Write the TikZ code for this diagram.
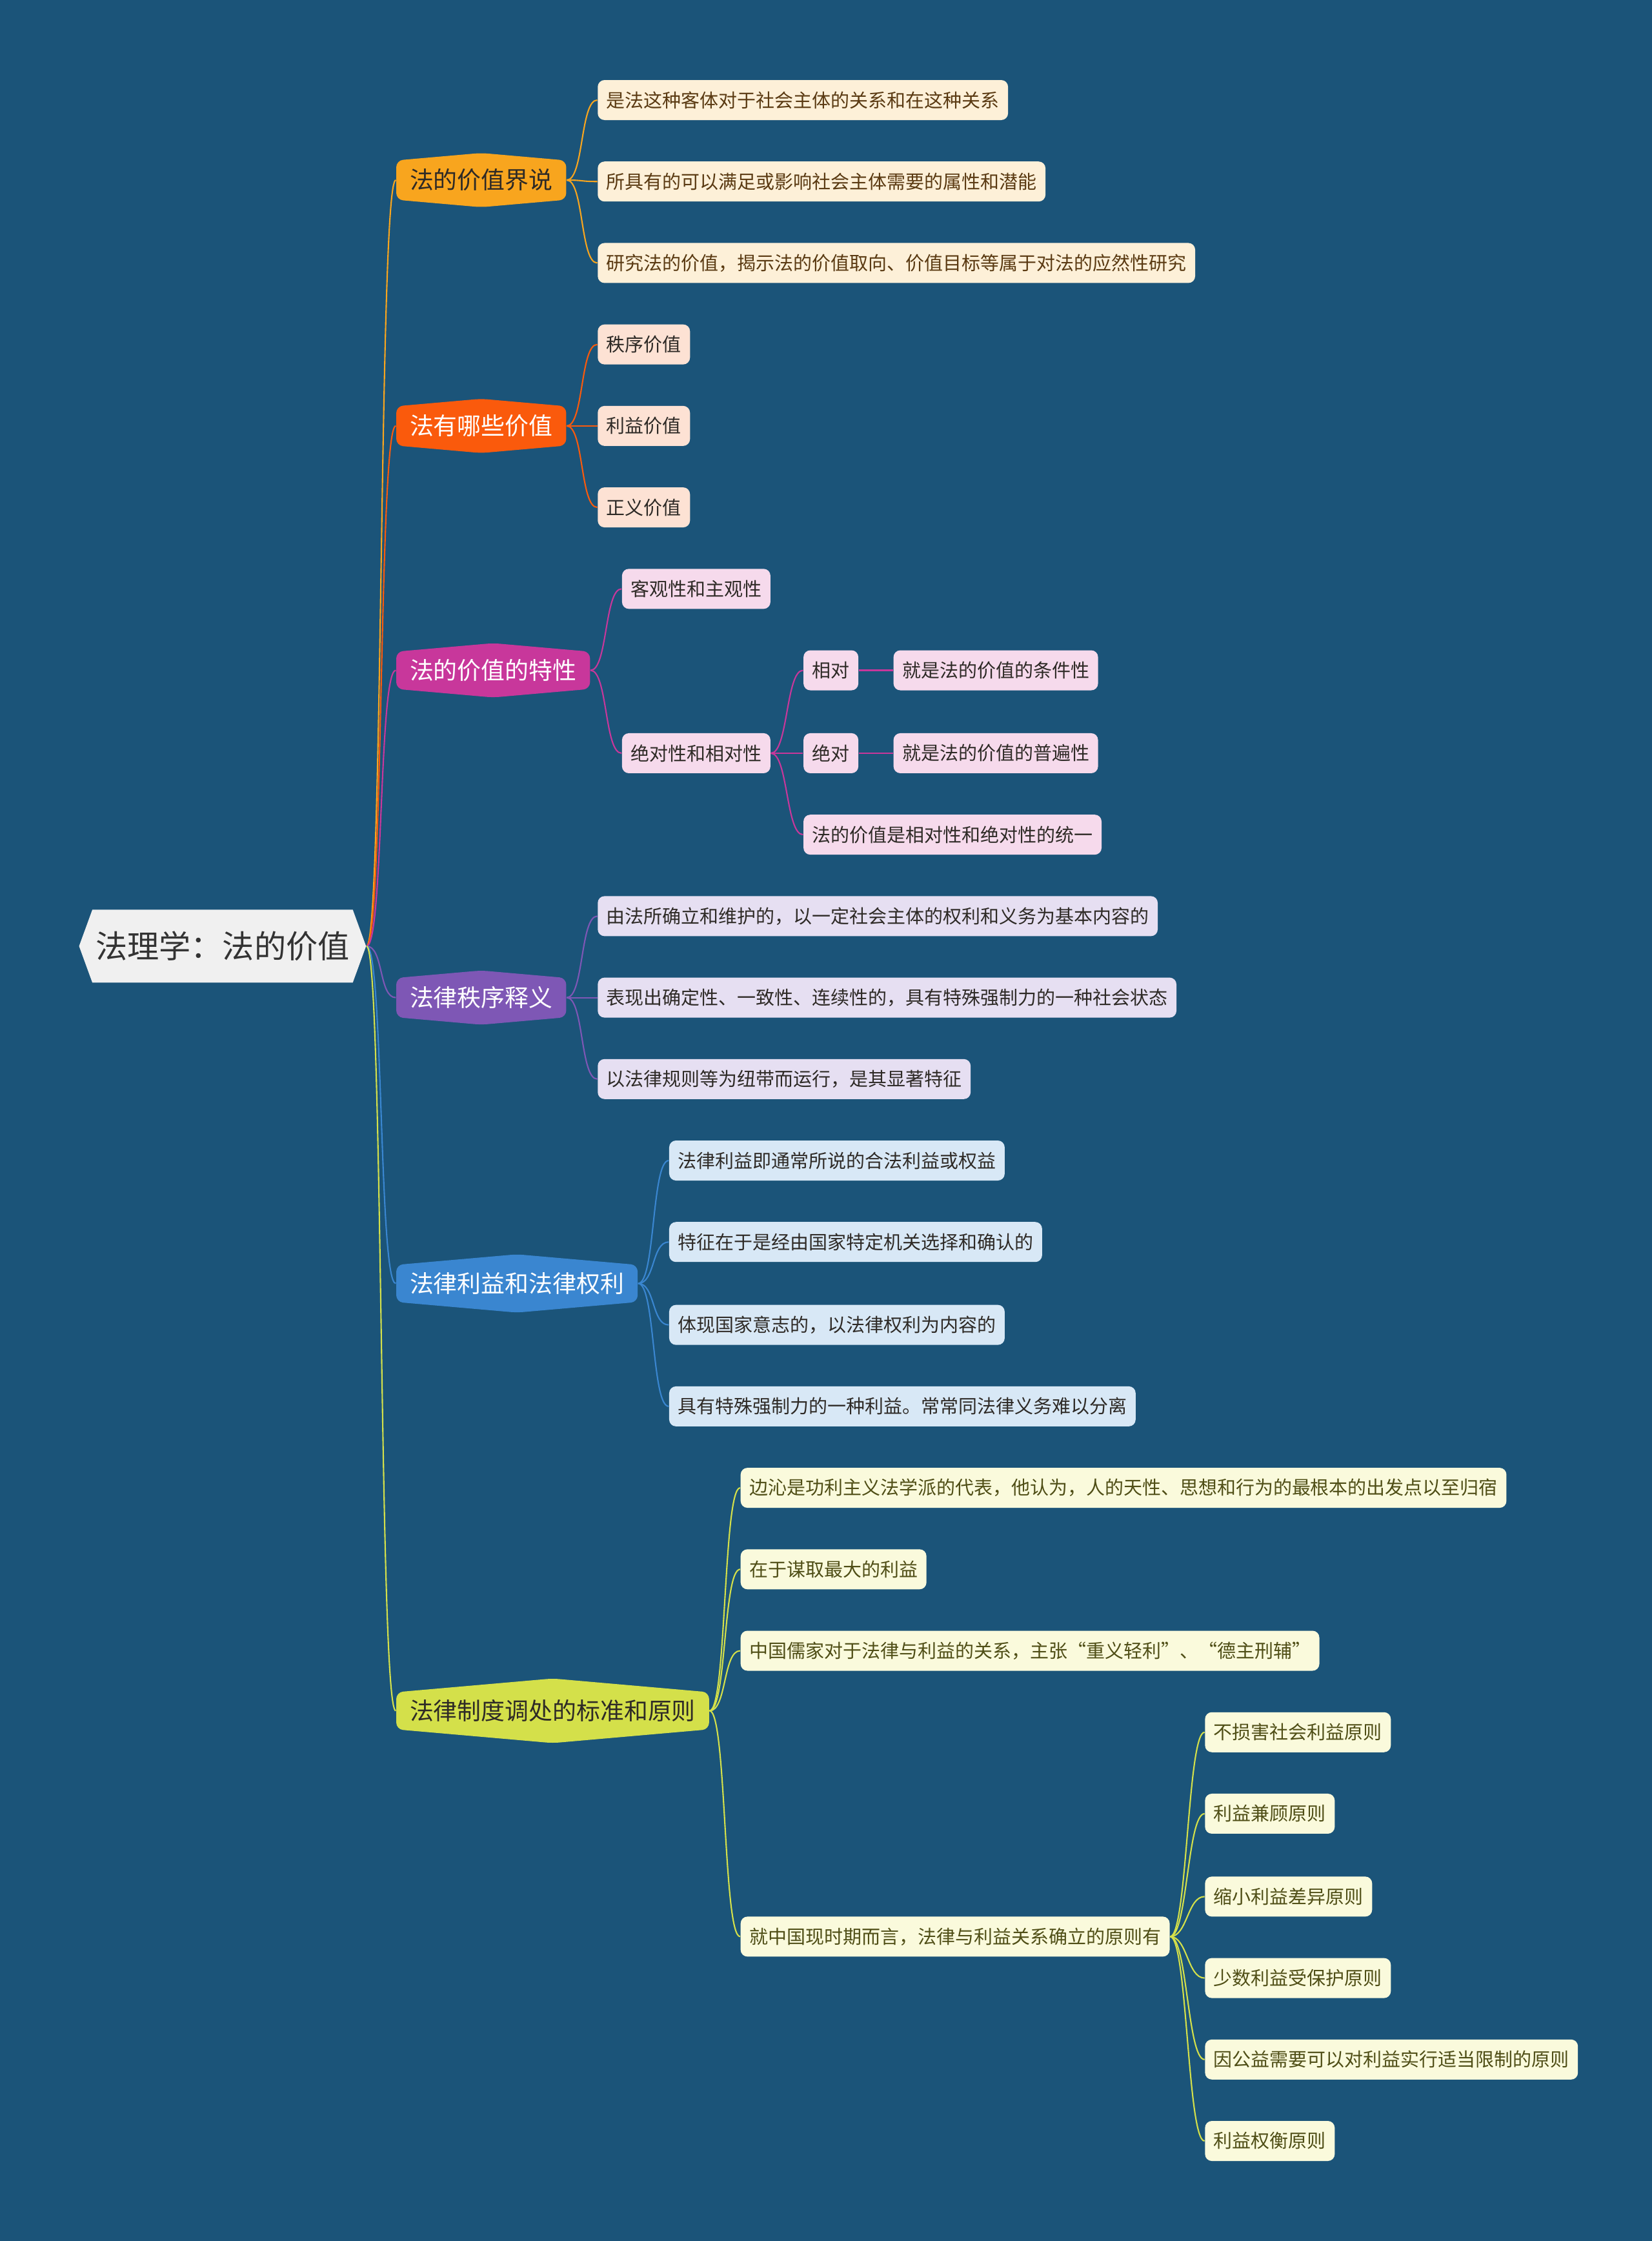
\documentclass[tikz,border=0pt]{standalone}
\usepackage{fontspec}
\setmainfont{Noto Sans CJK SC}
\usetikzlibrary{shapes.symbols,positioning}
\definecolor{fondo}{HTML}{1B5479}
\definecolor{grisraiz}{HTML}{F0F0F0}
\definecolor{textoraiz}{HTML}{333333}
\definecolor{naranja}{HTML}{F8A51E}
\definecolor{rojo}{HTML}{FA5A0C}
\definecolor{magenta}{HTML}{C8379B}
\definecolor{morado}{HTML}{7E57B5}
\definecolor{azul}{HTML}{3A86D0}
\definecolor{lima}{HTML}{D4E04A}
\definecolor{crema}{HTML}{FDF0D8}
\definecolor{durazno}{HTML}{FDE2D4}
\definecolor{rosa}{HTML}{F6DAEC}
\definecolor{lavanda}{HTML}{E6DFF2}
\definecolor{celeste}{HTML}{D8E8F6}
\definecolor{marfil}{HTML}{FAFADC}
\definecolor{marron}{HTML}{5A3A12}
\definecolor{oscuro}{HTML}{2E2A26}
\definecolor{oliva}{HTML}{4F4E16}
\tikzset{
  raiz/.style={
    signal, signal to=west and east, signal pointer angle=140,
    fill=grisraiz, text=textoraiz, anchor=west, inner xsep=0.5mm,
    minimum height=11.3mm, font=\fontsize{14pt}{17pt}\selectfont},
  rama/.style={
    signal, signal to=north and south, signal pointer angle=170,
    rounded corners=3pt, anchor=west, inner xsep=2.1mm,
    minimum height=8.4mm, font=\fontsize{10.5pt}{12pt}\selectfont},
  hoja/.style={
    rectangle, rounded corners=3pt, anchor=west, inner xsep=1.35mm,
    minimum height=6.2mm, font=\fontsize{8.25pt}{10pt}\selectfont},
  r1/.style={rama, fill=naranja, text=oscuro},
  r2/.style={rama, fill=rojo, text=white},
  r3/.style={rama, fill=magenta, text=white},
  r4/.style={rama, fill=morado, text=white},
  r5/.style={rama, fill=azul, text=white},
  r6/.style={rama, fill=lima, text=oscuro},
  h1/.style={hoja, fill=crema, text=marron},
  h2/.style={hoja, fill=durazno, text=oscuro},
  h3/.style={hoja, fill=rosa, text=oscuro},
  h4/.style={hoja, fill=lavanda, text=oscuro},
  h5/.style={hoja, fill=celeste, text=oscuro},
  h6/.style={hoja, fill=marfil, text=oliva},
  liga/.style={line width=0.6pt}
}

\begin{document}
\begin{tikzpicture}[x=0.22145mm, y=-0.22145mm]

\useasboundingbox (0,0) rectangle (1156,1568);
\fill[fondo] (0,0) rectangle (1156,1568);

\node[raiz] (raiz) at (55,662) {法理学：法的价值};

% ramas principales
\node[r1] (b1) at (277,126) {法的价值界说};
\node[r2] (b2) at (277,298) {法有哪些价值};
\node[r3] (b3) at (277,469) {法的价值的特性};
\node[r4] (b4) at (277,698) {法律秩序释义};
\node[r5] (b5) at (277,898) {法律利益和法律权利};
\node[r6] (b6) at (277,1197) {法律制度调处的标准和原则};

%法的价值界说
\node[h1] (h11) at (418,70) {是法这种客体对于社会主体的关系和在这种关系};
\node[h1] (h12) at (418,127) {所具有的可以满足或影响社会主体需要的属性和潜能};
\node[h1] (h13) at (418,184) {研究法的价值，揭示法的价值取向、价值目标等属于对法的应然性研究};

% 法有哪些价值
\node[h2] (h21) at (418,241) {秩序价值};
\node[h2] (h22) at (418,298) {利益价值};
\node[h2] (h23) at (418,355) {正义价值};

% 法的价值的特性
\node[h3] (h31) at (435,412) {客观性和主观性};
\node[h3] (h32) at (435,527) {绝对性和相对性};
\node[h3] (h321) at (562,469) {相对};
\node[h3] (h322) at (562,527) {绝对};
\node[h3] (h323) at (562,584) {法的价值是相对性和绝对性的统一};
\node[h3] (h3211) at (625,469) {就是法的价值的条件性};
\node[h3] (h3221) at (625,527) {就是法的价值的普遍性};

% 法律秩序释义
\node[h4] (h41) at (418,641) {由法所确立和维护的，以一定社会主体的权利和义务为基本内容的};
\node[h4] (h42) at (418,698) {表现出确定性、一致性、连续性的，具有特殊强制力的一种社会状态};
\node[h4] (h43) at (418,755) {以法律规则等为纽带而运行，是其显著特征};

% 法律利益和法律权利
\node[h5] (h51) at (468,812) {法律利益即通常所说的合法利益或权益};
\node[h5] (h52) at (468,869) {特征在于是经由国家特定机关选择和确认的};
\node[h5] (h53) at (468,927) {体现国家意志的，以法律权利为内容的};
\node[h5] (h54) at (468,984) {具有特殊强制力的一种利益。常常同法律义务难以分离};

% 法律制度调处的标准和原则
\node[h6] (h61) at (518,1041) {边沁是功利主义法学派的代表，他认为，人的天性、思想和行为的最根本的出发点以至归宿};
\node[h6] (h62) at (518,1098) {在于谋取最大的利益};
\node[h6] (h63) at (518,1155) {中国儒家对于法律与利益的关系，主张“重义轻利”、“德主刑辅”};
\node[h6] (h64) at (518,1355) {就中国现时期而言，法律与利益关系确立的原则有};
\node[h6] (h641) at (843,1212) {不损害社会利益原则};
\node[h6] (h642) at (843,1269) {利益兼顾原则};
\node[h6] (h643) at (843,1327) {缩小利益差异原则};
\node[h6] (h644) at (843,1384) {少数利益受保护原则};
\node[h6] (h645) at (843,1441) {因公益需要可以对利益实行适当限制的原则};
\node[h6] (h646) at (843,1498) {利益权衡原则};

% conectores
\foreach \b/\c in {b1/naranja, b2/rojo, b3/magenta, b4/morado, b5/azul, b6/lima}
  \draw[liga, \c] (raiz.east) .. controls +(12,0) and +(-12,0) .. (\b.west);

\foreach \p/\h/\c in {b1/h11/naranja, b1/h12/naranja, b1/h13/naranja,
    b2/h21/rojo, b2/h22/rojo, b2/h23/rojo,
    b3/h31/magenta, b3/h32/magenta, h32/h321/magenta, h32/h322/magenta,
    h32/h323/magenta, h321/h3211/magenta, h322/h3221/magenta,
    b4/h41/morado, b4/h42/morado, b4/h43/morado,
    b5/h51/azul, b5/h52/azul, b5/h53/azul, b5/h54/azul,
    b6/h61/lima, b6/h62/lima, b6/h63/lima, b6/h64/lima,
    h64/h641/lima, h64/h642/lima, h64/h643/lima,
    h64/h644/lima, h64/h645/lima, h64/h646/lima}
  \draw[liga, \c] (\p.east) .. controls +(12,0) and +(-12,0) .. (\h.west);

\end{tikzpicture}
\end{document}
